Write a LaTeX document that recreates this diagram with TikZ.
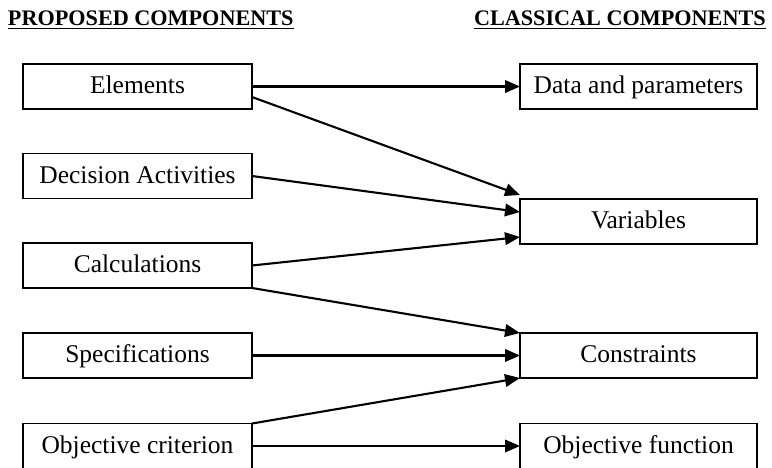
\documentclass[tikz,border=0pt]{standalone}
\usepackage{fontspec}
\setmainfont{Liberation Serif}
\usetikzlibrary{arrows.meta,calc}
\tikzset{
  box/.style={draw, line width=1.8pt, rectangle, inner sep=0pt, outer sep=0pt,
    minimum height=45pt, text height=18pt, text depth=4pt,
    font=\fontsize{25.5}{30}\selectfont},
  lbox/.style={box, minimum width=229pt},
  rbox/.style={box, minimum width=237pt},
  head/.style={inner sep=0pt, outer sep=0pt, font=\fontsize{22.2}{26}\selectfont\bfseries},
  conn/.style={line width=2.1pt, -{Triangle[length=15pt,width=12.5pt]}},
  uline/.style={line width=1.8pt}
}
\begin{document}
\begin{tikzpicture}[x=1pt,y=-1pt]
\useasboundingbox (0,0) rectangle (772,467);
% headers
\node[head, anchor=base west] (h1) at (8,25) {PROPOSED COMPONENTS};
\node[head, anchor=base west] (h2) at (474,25) {CLASSICAL COMPONENTS};
\draw[uline] ([yshift=-3.5pt]h1.base west) -- ([yshift=-3.5pt]h1.base east);
\draw[uline] ([yshift=-3.5pt]h2.base west) -- ([yshift=-3.5pt]h2.base east);
% left boxes
\node[lbox] (el) at (137.5,86.5) {Elements};
\node[lbox] (da) at (137.5,176) {Decision Activities};
\node[lbox] (ca) at (137.5,265.5) {Calculations};
\node[lbox] (sp) at (137.5,355.5) {Specifications};
\node[lbox] (oc) at (137.5,446) {Objective criterion};
% right boxes
\node[rbox] (dp) at (638.5,86.5) {Data and parameters};
\node[rbox] (va) at (638.5,221.5) {Variables};
\node[rbox] (co) at (638.5,355.5) {Constraints};
\node[rbox] (of) at (638.5,446) {Objective function};
% connectors
\draw[conn] (el.east) -- (dp.west);
\draw[conn] ([yshift=-10.5pt]el.east) -- ([yshift=4pt]va.north west);
\draw[conn] (da.east) -- ([yshift=9.5pt]va.west);
\draw[conn] (ca.east) -- ([yshift=-15.5pt]va.west);
\draw[conn] (ca.south east) -- (co.north west);
\draw[conn] (sp.east) -- (co.west);
\draw[conn] (oc.north east) -- (co.south west);
\draw[conn] (oc.east) -- (of.west);
\end{tikzpicture}
\end{document}
